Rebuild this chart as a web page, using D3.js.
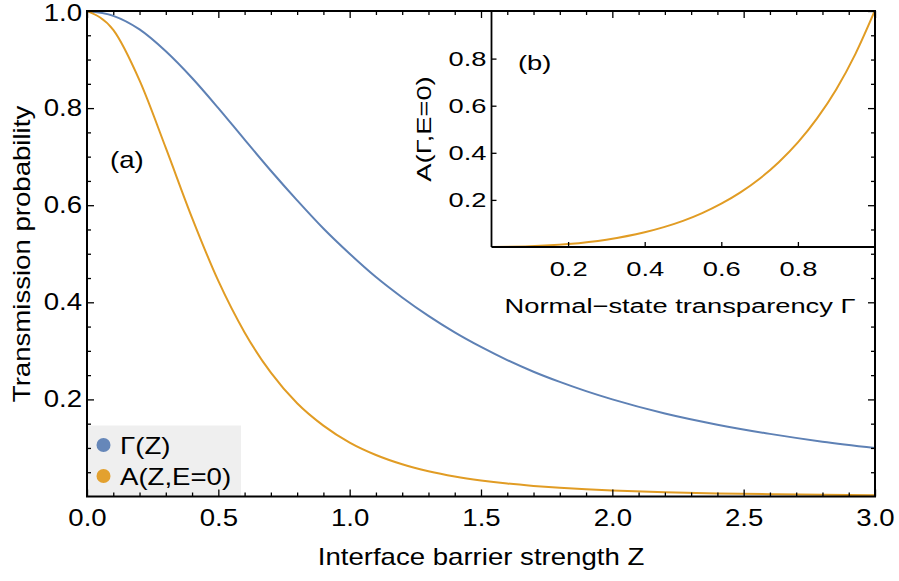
<!DOCTYPE html>
<html>
<head>
<meta charset="utf-8">
<script src="https://cdn.jsdelivr.net/npm/d3@7"></script>
<style>
  body { margin: 0; background: #fff; }
  svg { display: block; font-family: "Liberation Sans", Arial, sans-serif; }
</style>
</head>
<body>
<div id="chart"></div>
<script>
// main panel: barrier strength Z and the two transmission curves
var zValues   = [0, 0.1, 0.2, 0.3, 0.4, 0.5, 0.6, 0.7, 0.8, 0.9, 1.0, 1.1, 1.2, 1.3, 1.4, 1.5, 1.6, 1.7, 1.8, 1.9, 2.0, 2.2, 2.4, 2.6, 2.8, 3.0];
var gammaZ    = [1, 0.990, 0.962, 0.917, 0.862, 0.800, 0.735, 0.671, 0.610, 0.552, 0.500, 0.452, 0.410, 0.372, 0.338, 0.308, 0.281, 0.257, 0.236, 0.217, 0.200, 0.171, 0.148, 0.129, 0.113, 0.100];
var andreevZ  = [1, 0.961, 0.857, 0.718, 0.574, 0.444, 0.338, 0.255, 0.192, 0.146, 0.111, 0.0855, 0.0664, 0.0521, 0.0413, 0.0331, 0.0267, 0.0218, 0.0179, 0.0148, 0.0123, 0.0088, 0.0064, 0.0047, 0.0036, 0.0028];

// inset: A vs normal-state transparency
var insetGamma = [0, 0.1, 0.2, 0.3, 0.4, 0.45, 0.5, 0.55, 0.6, 0.65, 0.7, 0.75, 0.8, 0.85, 0.9, 0.95, 1.0];
var insetA     = [0, 0.0028, 0.0123, 0.0311, 0.0625, 0.0843, 0.111, 0.144, 0.184, 0.232, 0.290, 0.360, 0.444, 0.546, 0.669, 0.819, 1.0];

var xMajorTicks = [0, 0.5, 1, 1.5, 2, 2.5, 3];
var yMajorTicks = [0.2, 0.4, 0.6, 0.8, 1.0];
var insetTicks  = [0.2, 0.4, 0.6, 0.8];
var legendLabels = ["\u0393(Z)", "A(Z,E=0)"];

var blue = '#5e81b5', orange = '#e19c24';
var FS = 23;    // main font size
var K = 1.2;    // text in the reference is wider than the font, stretch along baseline
var FSI = 21;   // inset font size
var KI = 1.3;   // inset text stretch

var width = 899, height = 581;
var svg = d3.select('#chart').append('svg')
    .attr('width', width)
    .attr('height', height);

var x = d3.scaleLinear().domain([0, 3]).range([87, 875]);
var y = d3.scaleLinear().domain([0, 1]).range([496.5, 11]);
var xi = d3.scaleLinear().domain([0, 1]).range([491.5, 874.5]);
var yi = d3.scaleLinear().domain([0, 1]).range([247, 11.5]);

// legend box sits under the frame ticks
var legTop = 425.5;
svg.append('rect')
    .attr('x', x(0)).attr('y', legTop)
    .attr('width', 154).attr('height', y(0) - legTop)
    .attr('fill', '#efefef');

var defs = svg.append('defs');
defs.append('clipPath').attr('id', 'mainClip').append('rect')
    .attr('x', x(0)).attr('y', y(1))
    .attr('width', x(3) - x(0)).attr('height', y(0) - y(1));
defs.append('clipPath').attr('id', 'insetClip').append('rect')
    .attr('x', xi(0)).attr('y', y(1))
    .attr('width', xi(1) - xi(0)).attr('height', yi(0) - y(1));

var mainLine = d3.line()
    .x(function(d) { return x(d[0]); })
    .y(function(d) { return y(d[1]); })
    .curve(d3.curveMonotoneX);

var curves = svg.append('g').attr('clip-path', 'url(#mainClip)');
curves.append('path')
    .datum(zValues.map(function(z, i) { return [z, gammaZ[i]]; }))
    .attr('d', mainLine)
    .attr('fill', 'none').attr('stroke', blue).attr('stroke-width', 2);
curves.append('path')
    .datum(zValues.map(function(z, i) { return [z, andreevZ[i]]; }))
    .attr('d', mainLine)
    .attr('fill', 'none').attr('stroke', orange).attr('stroke-width', 2);

var insetLine = d3.line()
    .x(function(d) { return xi(d[0]); })
    .y(function(d) { return yi(d[1]); })
    .curve(d3.curveMonotoneX);

svg.append('g').attr('clip-path', 'url(#insetClip)')
    .append('path')
    .datum(insetGamma.map(function(g, i) { return [g, insetA[i]]; }))
    .attr('d', insetLine)
    .attr('fill', 'none').attr('stroke', orange).attr('stroke-width', 2);

// ticks helper (inward ticks, optional labels)
function addTicks(axisFn, scale, tx, ty, values, size, withLabels, pad, fontSize, k) {
    var ax = axisFn(scale)
        .tickValues(values)
        .tickSizeInner(-size)
        .tickSizeOuter(0)
        .tickPadding(pad || 3)
        .tickFormat(withLabels ? d3.format('.1f') : '');
    var g = svg.append('g')
        .attr('transform', 'translate(' + tx + ',' + ty + ')')
        .call(ax)
        .attr('font-family', null)
        .attr('font-size', fontSize || FS);
    g.select('.domain').remove();
    g.selectAll('line').attr('stroke', '#000').attr('stroke-width', 1.3);
    g.selectAll('text').attr('fill', '#000')
        .attr('transform', 'scale(' + (k || K) + ',1)');
    return g;
}

var xMinor = d3.range(1, 30).filter(function(i) { return i % 5 !== 0; }).map(function(i) { return i / 10; });
var yMinor = d3.range(1, 20).filter(function(i) { return i % 4 !== 0; }).map(function(i) { return i / 20; });

// main frame ticks: bottom/left labelled, top/right mirrored
addTicks(d3.axisBottom, x, 0, y(0), xMajorTicks, 7, true, 13.5);
addTicks(d3.axisBottom, x, 0, y(0), xMinor, 4, false);
addTicks(d3.axisTop, x, 0, y(1), xMajorTicks, 7, false);
addTicks(d3.axisTop, x, 0, y(1), xMinor, 4, false);
var yLab = addTicks(d3.axisLeft, y, x(0), 0, yMajorTicks, 7, true, 5 / K);
// top label sits a little lower, as in the reference
yLab.selectAll('text').filter(function(d) { return d === 1; }).attr('dy', '0.42em');
addTicks(d3.axisLeft, y, x(0), 0, yMinor, 4, false);
addTicks(d3.axisRight, y, x(3), 0, yMajorTicks, 7, false);
addTicks(d3.axisRight, y, x(3), 0, yMinor, 4, false);

svg.append('rect')
    .attr('x', x(0)).attr('y', y(1))
    .attr('width', x(3) - x(0)).attr('height', y(0) - y(1))
    .attr('fill', 'none').attr('stroke', '#000').attr('stroke-width', 2);

// inset axes
addTicks(d3.axisBottom, xi, 0, yi(0), insetTicks, 5, true, 14.5, FSI, KI);
addTicks(d3.axisLeft, yi, xi(0), 0, insetTicks, 5, true, 5 / KI, FSI, KI);
svg.append('line')
    .attr('x1', xi(0)).attr('x2', xi(0)).attr('y1', y(1)).attr('y2', yi(0))
    .attr('stroke', '#000').attr('stroke-width', 1.8);
svg.append('line')
    .attr('x1', xi(0)).attr('x2', xi(1)).attr('y1', yi(0)).attr('y2', yi(0))
    .attr('stroke', '#000').attr('stroke-width', 1.8);

// text labels
function label(txt, px, py, size, k, rotate, anchor) {
    svg.append('text')
        .attr('transform', 'translate(' + px + ',' + py + ')' + (rotate ? ' rotate(-90)' : '') + ' scale(' + k + ',1)')
        .attr('text-anchor', anchor || 'start')
        .attr('font-size', size)
        .attr('fill', '#000')
        .text(txt);
}

label('Interface barrier strength Z', 481, 565, FS, K, false, 'middle');
label('Transmission probability', 29.5, 254, FS, K, true, 'middle');
label('(a)', 110, 168, FS, K);
label('(b)', 518, 69.5, FSI, KI);
label('Normal\u2212state transparency \u0393', 680, 313, FSI, KI, false, 'middle');
label('A(\u0393,E=0)', 430.5, 129, FSI, KI, true, 'middle');

// legend
var legColors = [blue, orange];
legendLabels.forEach(function(t, i) {
    var cy = 445 + i * 31;
    svg.append('circle')
        .attr('cx', 103.5).attr('cy', cy).attr('r', 7)
        .attr('fill', legColors[i]).attr('fill-opacity', 0.95);
    label(t, 120, cy + 8.5, FS, K);
});
</script>
</body>
</html>
